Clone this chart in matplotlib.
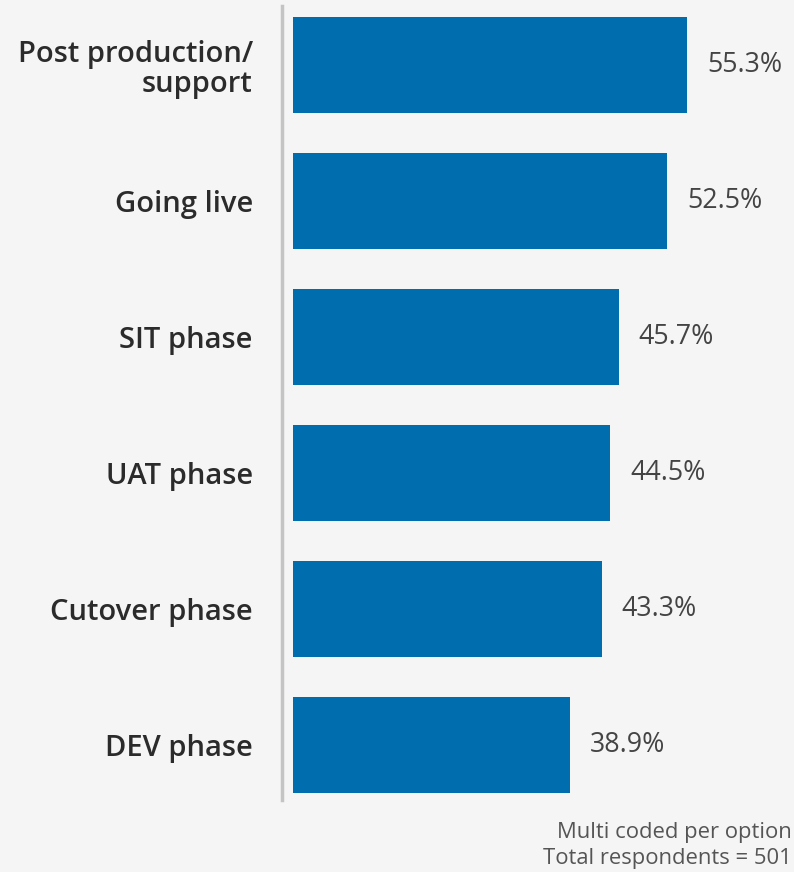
import numpy as np
import matplotlib.pyplot as plt

plt.rcParams['font.family'] = ['Open Sans', 'DejaVu Sans']

# Data
categories = ['Post production/\nsupport', 'Going live', 'SIT phase',
              'UAT phase', 'Cutover phase', 'DEV phase']
values = [55.3, 52.5, 45.7, 44.5, 43.3, 38.9]

bg = '#f5f5f5'
bar_color = '#006eae'

fig = plt.figure(figsize=(7.94, 8.72), dpi=100, facecolor=bg)
W, H = 794, 872
ax = fig.add_axes([282 / W, 1 - 800 / H, 1 - 282 / W, 794 / H])
ax.set_facecolor(bg)

y = np.arange(len(categories))
ax.barh(y, values, height=0.706, color=bar_color)

for yi, v in zip(y, values):
    ax.text(v + 2.8, yi, f'{v:.1f}%', va='center', ha='left',
            fontsize=19.3, color='#444444')

ax.set_xlim(-1.54, 70.3)
ax.set_ylim(5.404, -0.434)

ax.set_yticks(y)
ax.set_yticklabels(categories, fontsize=21, fontweight='semibold',
                   color='#2b2b2b', linespacing=1.08)
ax.tick_params(axis='y', length=0, pad=21)
ax.set_xticks([])

for s in ['top', 'right', 'bottom']:
    ax.spines[s].set_visible(False)
ax.spines['left'].set_color('#c4c4c4')
ax.spines['left'].set_linewidth(2.5)

fig.text(792 / W, 1 - 832 / H, 'Multi coded per option', ha='right',
         va='center', fontsize=15.8, color='#555555')
fig.text(792 / W, 1 - 858 / H, 'Total respondents = 501', ha='right',
         va='center', fontsize=15.8, color='#555555')

fig.savefig('out.png', dpi=100, facecolor=bg)
